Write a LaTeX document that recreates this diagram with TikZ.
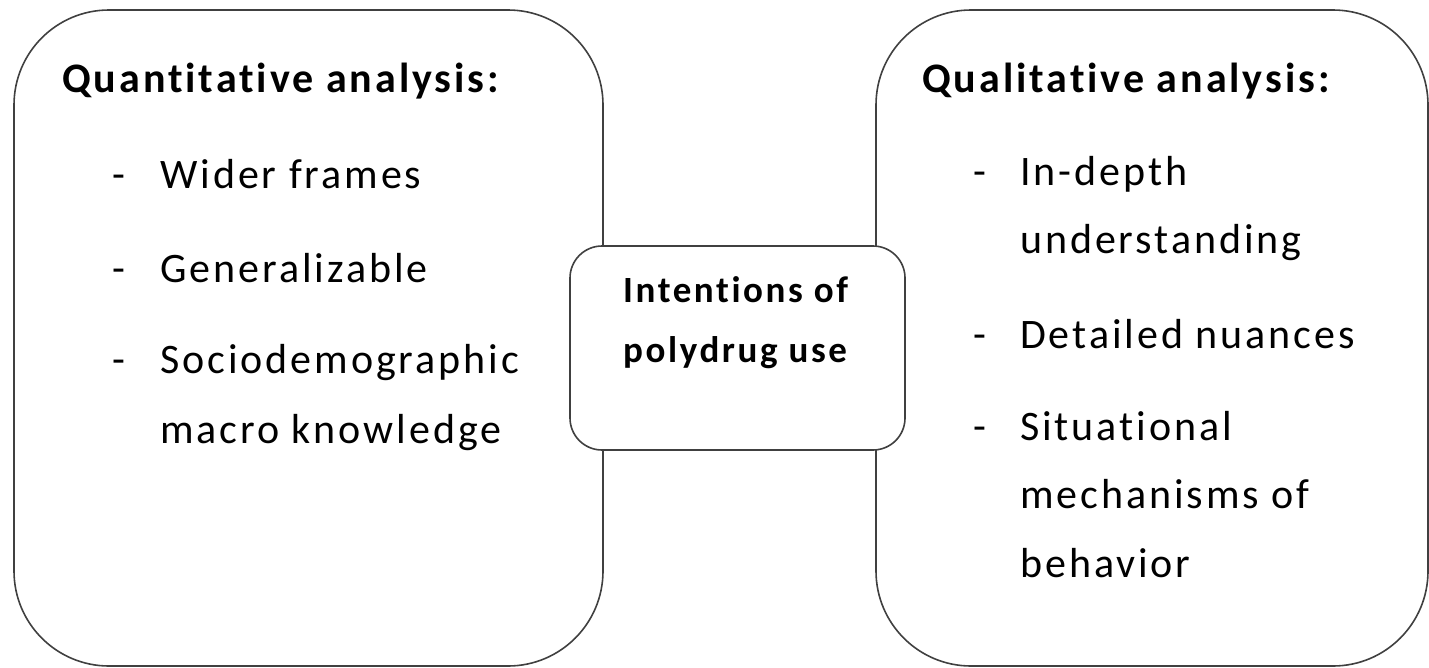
\documentclass[tikz,border=0pt]{standalone}
\usepackage{fontspec}
\setmainfont{Carlito}
\newfontfamily\spaced[LetterSpace=7, Ligatures=NoCommon]{Carlito}
\usetikzlibrary{positioning}

\begin{document}
\begin{tikzpicture}[
        x=1pt, y=-1pt,
        panel/.style={draw=black!75, line width=1.6pt, rounded corners=95pt, fill=white},
        core/.style={draw=black!75, line width=1.6pt, rounded corners=32pt, fill=white},
        heading/.style={anchor=base west, inner sep=0pt, font=\spaced\fontsize{42}{50}\selectfont\bfseries},
        item/.style={anchor=base west, inner sep=0pt, font=\spaced\fontsize{42}{50}\selectfont},
        hyphen/.style={anchor=base west, inner sep=0pt, font=\fontsize{42}{50}\selectfont},
        centre/.style={anchor=base west, inner sep=0pt, font=\spaced\fontsize{37}{44}\selectfont\bfseries}
    ]
    \useasboundingbox (0,0) rectangle (1429,667);

    % -- Cadres --
    \draw[panel] (14,10) rectangle (603,666);
    \draw[panel] (876,10) rectangle (1428,666);

    % -- Analyse quantitative --
    \node[heading] (quanti) at (62,92) {Quantitative analysis:};
    \node[hyphen] (d1) at (112,188) {-};
    \node[item] (wider) at (160,188) {Wider frames};
    \node[hyphen] (d2) at (112,282) {-};
    \node[item] (general) at (160,282) {Generalizable};
    \node[hyphen] (d3) at (112,373) {-};
    \node[item] (socio) at (160,373) {Sociodemographic};
    \node[item] (macro) at (160,443) {macro knowledge};

    % -- Analyse qualitative --
    \node[heading] (quali) at (922,92) {Qualitative analysis:};
    \node[hyphen] (d4) at (973,185) {-};
    \node[item] (depth) at (1020,185) {In-depth};
    \node[item] (underst) at (1020,253) {understanding};
    \node[hyphen] (d5) at (973,348) {-};
    \node[item] (nuances) at (1020,348) {Detailed nuances};
    \node[hyphen] (d6) at (973,440) {-};
    \node[item] (situ) at (1020,440) {Situational};
    \node[item] (mecha) at (1020,508) {mechanisms of};
    \node[item] (behav) at (1020,577) {behavior};

    % -- Cadre central --
    \draw[core] (570,246) rectangle (905,450);
    \node[centre] (intent) at (623,302) {Intentions of};
    \node[centre] (poly) at (623,362) {polydrug use};
\end{tikzpicture}
\end{document}
